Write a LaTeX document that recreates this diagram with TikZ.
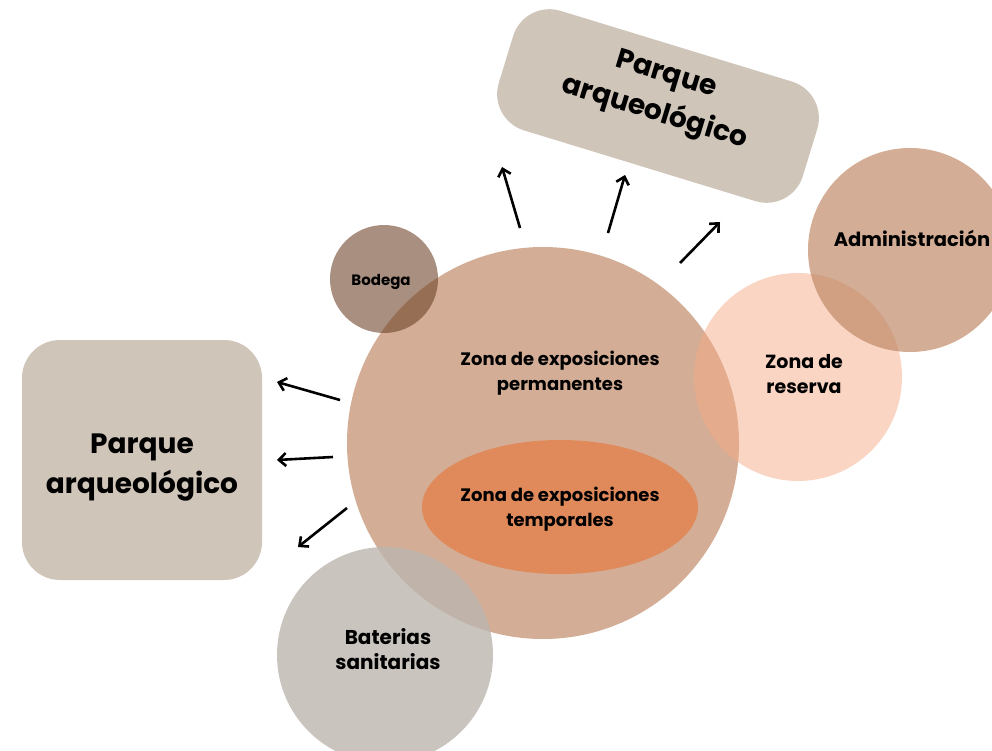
\documentclass[tikz,border=0pt]{standalone}
\usepackage{fontspec}
\setmainfont{Poppins}[BoldFont={Poppins Bold}]
\usetikzlibrary{arrows.meta,shapes.geometric}
\definecolor{arena}{RGB}{208,197,185}
\definecolor{tierra}{RGB}{211,173,149}
\definecolor{cafe}{RGB}{110,68,42}
\definecolor{gris}{RGB}{188,181,174}
\definecolor{salmon}{RGB}{245,171,135}
\definecolor{canela}{RGB}{192,138,104}
\definecolor{naranja}{RGB}{224,138,92}

\begin{document}
\begin{tikzpicture}[x=1pt,y=-1pt,
  zona/.style={circle,inner sep=0pt,align=center,font=\bfseries\fontsize{18}{25}\selectfont},
  parque/.style={rectangle,rounded corners=38pt,fill=arena,inner sep=0pt},
  titulo/.style={align=center,inner sep=0pt,font=\bfseries\fontsize{28}{40}\selectfont},
  flecha/.style={line width=2.6pt,-{Straight Barb[length=7pt,width=13pt,line width=2.6pt]}}]
  \useasboundingbox (0,0) rectangle (992,751);
  \clip (0,0) rectangle (992,751);

  \node[parque,minimum width=240,minimum height=240] (P1) at (142,460) {};
  \node[parque,minimum width=318,minimum height=125,rotate=-17] (P2) at (658,106) {};
  \node[titulo] (t1) at (142,468) {Parque\\arqueológico};
  \node[titulo,rotate=-17] (t2) at (660,95) {Parque\\arqueológico};

  \node[zona,fill=tierra,minimum size=392] (Z) at (543,443) {};
  \node[zona,ellipse,fill=naranja,minimum width=276,minimum height=134] (T) at (560,507) {};
  \node[zona,fill=cafe,fill opacity=0.6,minimum size=108] (B) at (384,279) {};
  \node[zona,fill=gris,fill opacity=0.8,minimum size=216] (S) at (385,655) {};
  \node[zona,fill=salmon,fill opacity=0.5,minimum size=208] (R) at (798,377) {};
  \node[zona,fill=canela,fill opacity=0.7,minimum size=204] (A) at (910,250) {};

  \node[zona] (z1) at (560,373) {Zona de exposiciones\\permanentes};
  \node[zona] (z2) at (560,509) {Zona de exposiciones\\temporales};
  \node[zona,font=\bfseries\fontsize{15}{20}\selectfont] (z3) at (381,282) {Bodega};
  \node[zona,font=\bfseries\fontsize{20}{25}\selectfont] (z4) at (388,649) {Baterias\\sanitarias};
  \node[zona,font=\bfseries\fontsize{19}{25}\selectfont] (z5) at (804,374) {Zona de\\reserva};
  \node[zona,font=\bfseries\fontsize{19.5}{25}\selectfont] (z6) at (912,238) {Administración};

  \coordinate (a1) at (520,228); \coordinate (b1) at (502,167);
  \coordinate (a2) at (608,233); \coordinate (b2) at (625,175);
  \coordinate (a3) at (680,263); \coordinate (b3) at (720,222);
  \coordinate (a4) at (340,400); \coordinate (b4) at (277,382);
  \coordinate (a5) at (333,457); \coordinate (b5) at (277,460);
  \coordinate (a6) at (347,508); \coordinate (b6) at (298,547);
  \foreach \i in {1,...,6}
    \draw[flecha] (a\i) -- (b\i);
\end{tikzpicture}
\end{document}
